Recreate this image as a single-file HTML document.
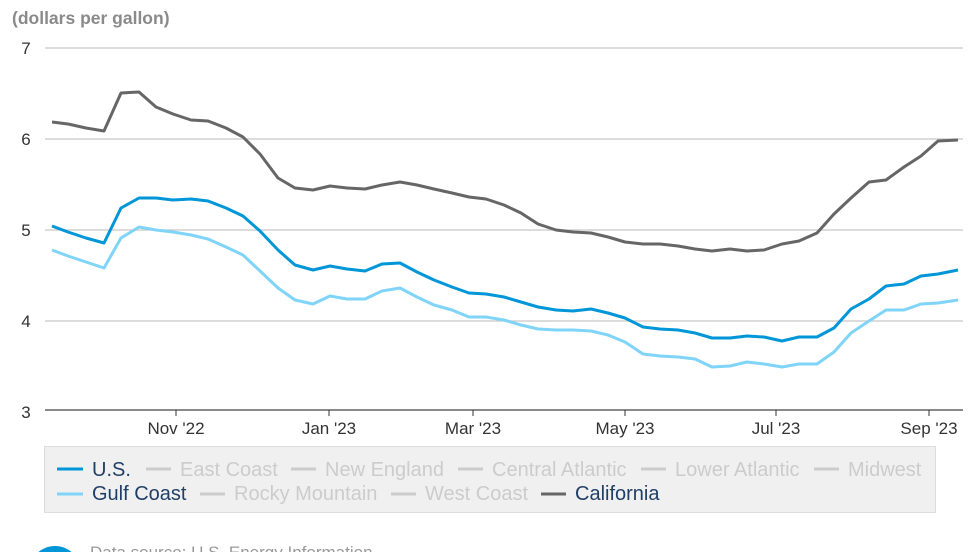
<!DOCTYPE html>
<html><head><meta charset="utf-8"><style>
body{margin:0;background:#fff;width:980px;height:552px;overflow:hidden;font-family:"Liberation Sans",sans-serif;}
svg{display:block;overflow:hidden}
</style></head><body>
<svg width="980" height="552" xmlns="http://www.w3.org/2000/svg" font-family="Liberation Sans, sans-serif">
<text x="12" y="24" font-size="17.5" font-weight="bold" fill="#8a8a8a">(dollars per gallon)</text>
<g stroke="#c8c8c8" stroke-width="1.2">
<line x1="45" y1="48" x2="963" y2="48"/><line x1="45" y1="139" x2="963" y2="139"/>
<line x1="45" y1="230" x2="963" y2="230"/><line x1="45" y1="321" x2="963" y2="321"/>
</g>
<line x1="45" y1="410" x2="963" y2="410" stroke="#444" stroke-width="1.2"/>
<g font-size="17" fill="#333" text-anchor="middle">
<text x="26" y="54">7</text><text x="26" y="145">6</text><text x="26" y="236">5</text><text x="26" y="327">4</text><text x="26" y="418">3</text>
<text x="176" y="434">Nov '22</text><text x="329" y="434">Jan '23</text><text x="473" y="434">Mar '23</text><text x="625" y="434">May '23</text><text x="776" y="434">Jul '23</text><text x="929" y="434">Sep '23</text>
</g>
<g stroke="#333" stroke-width="1"><line x1="176" y1="410" x2="176" y2="416"/><line x1="329" y1="410" x2="329" y2="416"/><line x1="473" y1="410" x2="473" y2="416"/><line x1="625" y1="410" x2="625" y2="416"/><line x1="776" y1="410" x2="776" y2="416"/><line x1="929" y1="410" x2="929" y2="416"/></g>
<g fill="none" stroke-width="3" stroke-linejoin="round">
<polyline stroke="#666" points="52,122 68,124 86,128 104,131 121,93 139,92 156,107 173,114 191,120 208,121 226,128 243,137 260,154 278,178 295,188 313,190 330,186 347,188 365,189 382,185 400,182 417,185 434,189 452,193 469,197 486,199 504,205 521,213 538,224 556,230 573,232 591,233 608,237 625,242 643,244 660,244 678,246 695,249 712,251 730,249 747,251 764,250 782,244 799,241 817,233 834,214 851,198 869,182 886,180 904,167 921,156 938,141 958,140"/>
<polyline stroke="#0096d7" points="52,226 68,232 86,238 104,243 121,208 139,198 156,198 173,200 191,199 208,201 226,208 243,216 260,231 278,250 295,265 313,270 330,266 347,269 365,271 382,264 400,263 417,272 434,280 452,287 469,293 486,294 504,297 521,302 538,307 556,310 573,311 591,309 608,313 625,318 643,327 660,329 678,330 695,333 712,338 730,338 747,336 764,337 782,341 799,337 817,337 834,328 851,309 869,299 886,286 904,284 921,276 938,274 958,270"/>
<polyline stroke="#7fd4f8" points="52,250 68,256 86,262 104,268 121,238 139,227 156,230 173,232 191,235 208,239 226,247 243,255 260,271 278,288 295,300 313,304 330,296 347,299 365,299 382,291 400,288 417,297 434,305 452,310 469,317 486,317 504,320 521,325 538,329 556,330 573,330 591,331 608,335 625,342 643,354 660,356 678,357 695,359 712,367 730,366 747,362 764,364 782,367 799,364 817,364 834,352 851,333 869,321 886,310 904,310 921,304 938,303 958,300"/>
</g>
<rect x="44.5" y="446.5" width="891" height="66" fill="#f0f0f0" stroke="#ddd"/>
<g font-size="20">
<line x1="57" y1="469" x2="83" y2="469" stroke="#0096d7" stroke-width="3"/><text x="92" y="476" fill="#1f3f66">U.S.</text>
<line x1="146" y1="469" x2="171" y2="469" stroke="#ccc" stroke-width="3"/><text x="180" y="476" fill="#ccc">East Coast</text>
<line x1="291" y1="469" x2="316" y2="469" stroke="#ccc" stroke-width="3"/><text x="325" y="476" fill="#ccc">New England</text>
<line x1="458" y1="469" x2="483" y2="469" stroke="#ccc" stroke-width="3"/><text x="492" y="476" fill="#ccc">Central Atlantic</text>
<line x1="641" y1="469" x2="666" y2="469" stroke="#ccc" stroke-width="3"/><text x="675" y="476" fill="#ccc">Lower Atlantic</text>
<line x1="814" y1="469" x2="839" y2="469" stroke="#ccc" stroke-width="3"/><text x="848" y="476" fill="#ccc">Midwest</text>
<line x1="57" y1="494" x2="83" y2="494" stroke="#7fd4f8" stroke-width="3"/><text x="92" y="500" fill="#1f3f66">Gulf Coast</text>
<line x1="200" y1="494" x2="225" y2="494" stroke="#ccc" stroke-width="3"/><text x="234" y="500" fill="#ccc">Rocky Mountain</text>
<line x1="391" y1="494" x2="416" y2="494" stroke="#ccc" stroke-width="3"/><text x="425" y="500" fill="#ccc">West Coast</text>
<line x1="541" y1="494" x2="566" y2="494" stroke="#666" stroke-width="3"/><text x="575" y="500" fill="#1f3f66">California</text>
</g>
<circle cx="55" cy="572" r="26" fill="#0096d7"/>
<text x="90" y="558" font-size="17" fill="#999">Data source: U.S. Energy Information</text>
</svg>
</body></html>
